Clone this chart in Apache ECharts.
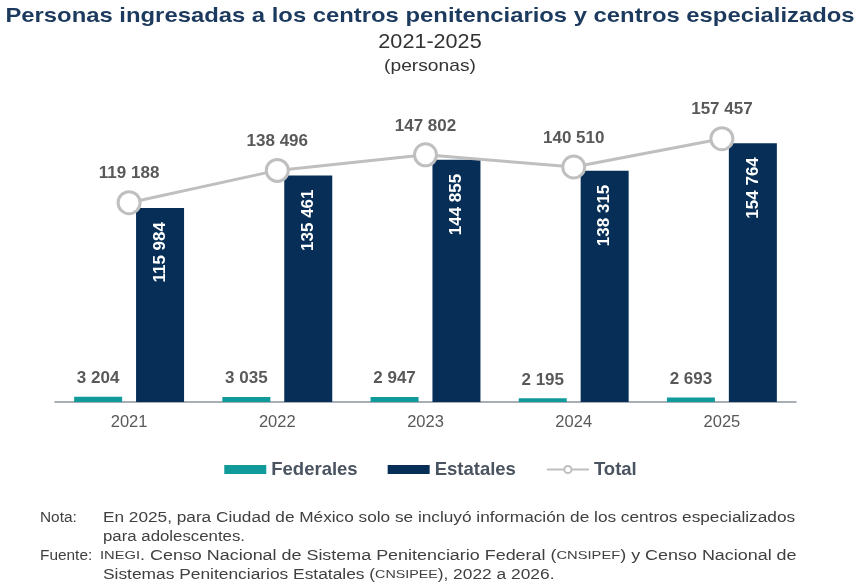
<!DOCTYPE html>
<html>
<head>
<meta charset="utf-8">
<script src="https://cdn.jsdelivr.net/npm/echarts@6/dist/echarts.min.js"></script>
<style>
  html, body { margin: 0; padding: 0; background: #fff; }
  #chart { width: 861px; height: 587px; }
</style>
</head>
<body>
<div id="chart"></div>
<script>
var years = ['2021', '2022', '2023', '2024', '2025'];
var federales = [3204, 3035, 2947, 2195, 2693];
var estatales = [115984, 135461, 144855, 138315, 154764];
var total = [119188, 138496, 147802, 140510, 157457];

var FONT = '"Liberation Sans", Arial, sans-serif';
var GRAY = '#595959';
var NOTE = '#404040';

// numbers with a space as thousands separator
function fmt(v) {
    return String(v).replace(/\B(?=(\d{3})+(?!\d))/g, ' ');
}

// one line of text, stretched sideways to match the source's wide type
function line(x, y, text, font, color, sx, align, rich) {
    return {
        type: 'text', x: x, y: y, scaleX: sx, silent: true,
        style: {
            text: text, font: font, fill: color,
            align: align || 'left', verticalAlign: 'middle',
            rich: rich
        }
    };
}

var small = { s: { fontSize: 11.5, fontFamily: FONT, fill: NOTE } };

var chart = echarts.init(document.getElementById('chart'));

var option = {
    backgroundColor: '#fff',
    textStyle: { fontFamily: FONT },
    legend: {
        top: 455,
        left: 'center',
        itemWidth: 42,
        itemHeight: 9,
        itemGap: 30,
        textStyle: { fontFamily: FONT, fontSize: 18.5, fontWeight: 'bold', color: '#4A5360' },
        data: [
            { name: 'Federales', icon: 'rect' },
            { name: 'Estatales', icon: 'rect' },
            { name: 'Total' }
        ]
    },
    grid: { left: 55, right: 65, top: 101, bottom: 185, containLabel: false },
    xAxis: {
        type: 'category',
        data: years,
        axisLine: { lineStyle: { color: '#8A949E', width: 1.5 } },
        axisTick: { show: false },
        axisLabel: { fontFamily: FONT, fontSize: 16.5, color: GRAY, margin: 12 }
    },
    yAxis: {
        type: 'value',
        min: 0, max: 180000,
        show: false,
        splitLine: { show: false }
    },
    series: [
        {
            name: 'Federales',
            type: 'bar',
            data: federales,
            barWidth: 48,
            barGap: '29%',
            itemStyle: { color: '#109A9A' },
            label: {
                show: true, position: 'top', distance: 10,
                formatter: function (p) { return fmt(p.value); },
                fontFamily: FONT, fontSize: 17, fontWeight: 'bold', color: GRAY
            }
        },
        {
            name: 'Estatales',
            type: 'bar',
            data: estatales,
            barWidth: 48,
            itemStyle: { color: '#062E56' },
            label: {
                show: true, position: 'insideTop', distance: 14,
                rotate: 90, align: 'right', verticalAlign: 'middle',
                formatter: function (p) { return fmt(p.value); },
                fontFamily: FONT, fontSize: 17, fontWeight: 'bold', color: '#fff'
            }
        },
        {
            name: 'Total',
            type: 'line',
            data: total,
            symbol: 'circle',
            symbolSize: 22,
            z: 5,
            lineStyle: { color: '#BFBFBF', width: 3 },
            itemStyle: { color: '#fff', borderColor: '#BFBFBF', borderWidth: 3 },
            label: {
                show: true, position: 'top', distance: 8,
                formatter: function (p) { return fmt(p.value); },
                fontFamily: FONT, fontSize: 17, fontWeight: 'bold', color: GRAY
            }
        }
    ],
    graphic: [
        line(430, 16, 'Personas ingresadas a los centros penitenciarios y centros especializados',
             'bold 21px ' + FONT, '#1C3A5E', 1.135, 'center'),
        line(430, 42, '2021-2025', '20px ' + FONT, '#333', 1.08, 'center'),
        line(430, 66, '(personas)', '17px ' + FONT, '#333', 1.13, 'center'),

        line(40, 518, 'Nota:', '14px ' + FONT, NOTE, 1.1),
        line(103, 518, 'En 2025, para Ciudad de México solo se incluyó información de los centros especializados',
             '14px ' + FONT, NOTE, 1.23),
        line(103, 537, 'para adolescentes.', '14px ' + FONT, NOTE, 1.2),
        line(40, 556, 'Fuente:', '14px ' + FONT, NOTE, 1.1),
        line(100, 556, '{s|INEGI}. Censo Nacional de Sistema Penitenciario Federal ({s|CNSIPEF}) y Censo Nacional de',
             '14px ' + FONT, NOTE, 1.28, 'left', small),
        line(103, 575, 'Sistemas Penitenciarios Estatales ({s|CNSIPEE}), 2022 a 2026.',
             '14px ' + FONT, NOTE, 1.24, 'left', small)
    ]
};

chart.setOption(option);
</script>
</body>
</html>
